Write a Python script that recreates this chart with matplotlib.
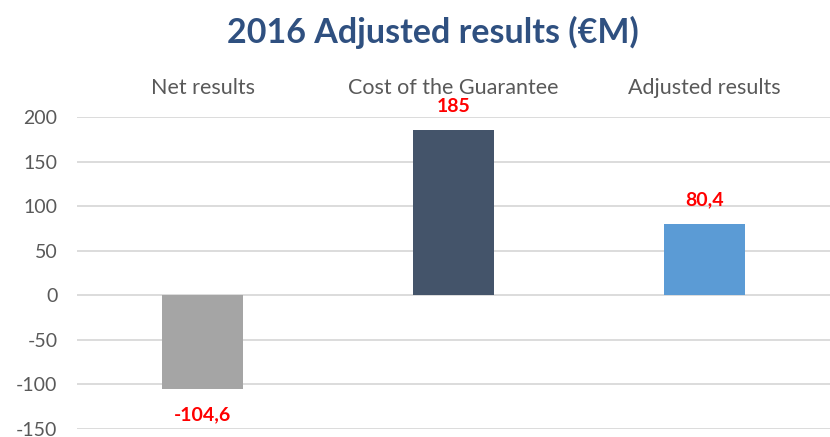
import matplotlib.pyplot as plt
import numpy as np

categories = ["Net results", "Cost of the Guarantee", "Adjusted results"]
values = [-104.6, 185, 80.4]
value_labels = ["-104,6", "185", "80,4"]
bar_colors = ["#A5A5A5", "#44546A", "#5B9BD5"]
yticks = [-150, -100, -50, 0, 50, 100, 150, 200]

plt.rcParams['font.family'] = ['Lato', 'DejaVu Sans']
plt.rcParams['axes.unicode_minus'] = False

fig = plt.figure(figsize=(8.3, 4.37), dpi=100)
ax = fig.add_axes([77/830, 8/437, 753/830, 312/437])

x = np.arange(len(categories))
ax.bar(x, values, width=0.32, color=bar_colors, zorder=3)

ax.set_xlim(-0.5, 2.5)
ax.set_ylim(-150, 200)
ax.set_yticks(yticks)
ax.yaxis.grid(True, color="#D9D9D9", linewidth=1.3, zorder=0)
ax.tick_params(axis='y', length=0, labelsize=14, labelcolor="#595959", pad=14)

# category names sit above the plot
ax.xaxis.tick_top()
ax.set_xticks(x)
ax.set_xticklabels(categories)
ax.tick_params(axis='x', length=0, labelsize=15.5, labelcolor="#595959", pad=14)

for s in ax.spines.values():
    s.set_visible(False)

# data labels
for xi, v, lab in zip(x, values, value_labels):
    if v < 0:
        ax.text(xi, v - 20, lab, ha='center', va='top', color="#FF0000",
                fontsize=14, fontweight='bold')
    else:
        ax.text(xi, v + 17, lab, ha='center', va='bottom', color="#FF0000",
                fontsize=14, fontweight='bold')

fig.text(433/830, 0.925, "2016 Adjusted results (€M)", ha='center', va='center',
         fontsize=24.5, fontweight='bold', color="#2F5080")

fig.savefig("out.png", dpi=100)
